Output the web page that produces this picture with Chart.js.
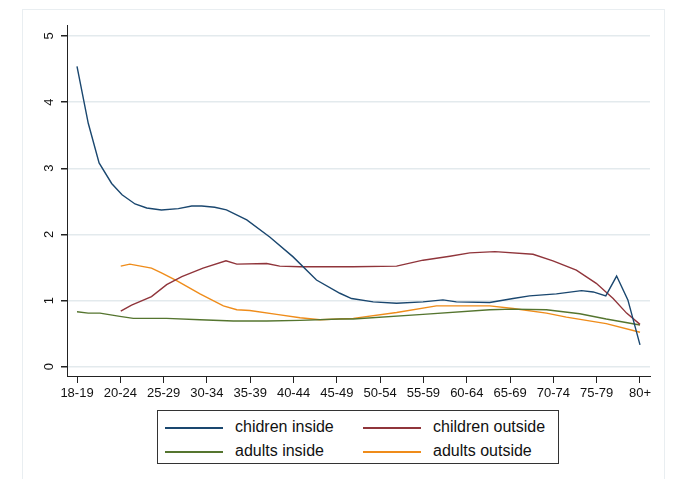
<!DOCTYPE html>
<html>
<head>
<meta charset="utf-8">
<script src="https://cdn.jsdelivr.net/npm/chart.js@4/dist/chart.umd.min.js"></script>
<style>
  html, body { margin: 0; padding: 0; background: #fff; }
  #wrap { position: relative; width: 674px; height: 479px; overflow: hidden; font-family: "Liberation Sans", Arial, sans-serif; }
  #frame { position: absolute; left: 22px; top: 9px; width: 643px; height: 490px; border: 1px solid #e9eef1; box-sizing: border-box; }
  #c { position: absolute; left: 0; top: 0; }
  #legend { position: absolute; left: 157px; top: 410px; width: 402px; height: 54px; border: 1px solid #333; box-sizing: border-box; background: #fff; }
  .item { position: absolute; height: 20px; font-size: 16px; color: #111; line-height: 20px; white-space: nowrap; }
  .swatch { position: absolute; top: 10px; width: 58px; height: 1.5px; }
  .lbl { position: absolute; top: 0; }
</style>
</head>
<body>
<div id="wrap">
  <div id="frame"></div>
  <canvas id="c" width="674" height="479"></canvas>
  <div id="legend"></div>
</div>
<script>
// Categories (x tick labels) - placed at integer positions 0..13
const ageGroups = ["18-19","20-24","25-29","30-34","35-39","40-44","45-49","50-54","55-59","60-64","65-69","70-74","75-79","80+"];
const yTicks = [0, 1, 2, 3, 4, 5];

// Series: x positions (in age-group units) and values
const childrenInsideX = [0, 0.26, 0.51, 0.80, 1.04, 1.34, 1.61, 1.95, 2.34, 2.65, 2.88, 3.18, 3.45, 3.92, 4.45, 4.99, 5.53, 6.07, 6.34, 6.84, 7.38, 7.99, 8.45, 8.76, 9.53, 10.07, 10.45, 11.07, 11.65, 11.92, 12.21, 12.46, 12.72, 13.0];
const childrenInsideY = [4.54, 3.68, 3.08, 2.77, 2.60, 2.46, 2.40, 2.37, 2.39, 2.43, 2.43, 2.41, 2.37, 2.22, 1.96, 1.66, 1.31, 1.11, 1.03, 0.98, 0.96, 0.98, 1.01, 0.98, 0.97, 1.03, 1.07, 1.10, 1.15, 1.13, 1.07, 1.37, 1.01, 0.33];

const childrenOutsideX = [1.01, 1.26, 1.72, 2.07, 2.42, 2.91, 3.44, 3.69, 4.38, 4.68, 5.15, 6.37, 7.38, 7.99, 8.61, 9.07, 9.65, 10.53, 10.99, 11.53, 11.99, 12.38, 12.69, 13.0];
const childrenOutsideY = [0.84, 0.93, 1.06, 1.24, 1.36, 1.49, 1.60, 1.55, 1.56, 1.52, 1.51, 1.51, 1.52, 1.61, 1.67, 1.72, 1.74, 1.70, 1.60, 1.46, 1.26, 1.03, 0.81, 0.64];

const adultsInsideX = [0, 0.26, 0.53, 0.99, 1.30, 2.07, 2.84, 3.61, 4.38, 5.15, 6.07, 6.38, 7.99, 9.53, 10.07, 10.84, 11.61, 12.22, 13.0];
const adultsInsideY = [0.83, 0.81, 0.81, 0.76, 0.73, 0.73, 0.71, 0.69, 0.69, 0.70, 0.72, 0.72, 0.79, 0.86, 0.87, 0.86, 0.80, 0.72, 0.63];

const adultsOutsideX = [1.01, 1.22, 1.72, 1.95, 2.30, 2.84, 3.38, 3.69, 3.99, 4.61, 5.15, 5.61, 6.38, 7.38, 8.30, 9.53, 10.07, 10.84, 11.30, 12.22, 13.0];
const adultsOutsideY = [1.52, 1.55, 1.49, 1.42, 1.30, 1.10, 0.92, 0.86, 0.85, 0.79, 0.74, 0.71, 0.73, 0.82, 0.92, 0.92, 0.88, 0.81, 0.75, 0.65, 0.52];

const seriesLabels = ["chidren inside", "children outside", "adults inside", "adults outside"];
const seriesColors = ["#1a476f", "#90353b", "#55752f", "#ef8c1a"];

function pts(xs, ys) { return xs.map((x, i) => ({ x: x, y: ys[i] })); }

const seriesData = [
  pts(childrenInsideX, childrenInsideY),
  pts(childrenOutsideX, childrenOutsideY),
  pts(adultsInsideX, adultsInsideY),
  pts(adultsOutsideX, adultsOutsideY)
];

const fontFamily = '"Liberation Sans", Arial, sans-serif';

const chart = new Chart(document.getElementById('c'), {
  type: 'line',
  data: {
    datasets: seriesData.map((d, i) => ({
      label: seriesLabels[i],
      data: d,
      borderColor: seriesColors[i],
      backgroundColor: seriesColors[i],
      borderWidth: 1.4,
      pointRadius: 0,
      tension: 0,
      fill: false
    }))
  },
  options: {
    responsive: false,
    animation: false,
    devicePixelRatio: 1,
    layout: { padding: { left: 22, right: 24, top: 25, bottom: 63 } },
    plugins: {
      legend: { display: false },
      tooltip: { enabled: false }
    },
    scales: {
      x: {
        type: 'linear',
        min: -0.231,
        max: 13.231,
        afterBuildTicks: s => { s.ticks = ageGroups.map((_, i) => ({ value: i })); },
        afterFit: s => { s.height = 40; },
        border: { display: true, color: '#222', width: 1 },
        grid: { drawOnChartArea: false, drawTicks: true, tickLength: 7, tickColor: '#222', lineWidth: 1 },
        ticks: {
          autoSkip: false,
          maxRotation: 0,
          minRotation: 0,
          padding: 3,
          color: '#111',
          font: { family: fontFamily, size: 13 },
          callback: (v) => ageGroups[Math.round(v)]
        }
      },
      y: {
        type: 'linear',
        min: -0.141,
        max: 5.166,
        afterBuildTicks: s => { s.ticks = yTicks.map(v => ({ value: v })); },
        afterFit: s => { s.width = 45; },
        border: { display: true, color: '#222', width: 1 },
        grid: { color: '#e3eaed', lineWidth: 1.5, drawTicks: true, tickLength: 6, tickColor: '#222' },
        ticks: {
          minRotation: 90,
          maxRotation: 90,
          crossAlign: 'center',
          padding: 8,
          color: '#111',
          font: { family: fontFamily, size: 13 },
          callback: (v) => String(v)
        }
      }
    }
  }
});

// Legend built from the chart's datasets (2 x 2 grid, boxed)
const legend = document.getElementById('legend');
const colX = [7, 205];
const rowY = [6, 30];
chart.data.datasets.forEach((ds, i) => {
  const item = document.createElement('div');
  item.className = 'item';
  item.style.left = colX[i % 2] + 'px';
  item.style.top = rowY[Math.floor(i / 2)] + 'px';
  const sw = document.createElement('div');
  sw.className = 'swatch';
  sw.style.left = '0px';
  sw.style.background = ds.borderColor;
  const lb = document.createElement('span');
  lb.className = 'lbl';
  lb.style.left = '70px';
  lb.textContent = ds.label;
  item.appendChild(sw);
  item.appendChild(lb);
  legend.appendChild(item);
});
</script>
</body>
</html>
